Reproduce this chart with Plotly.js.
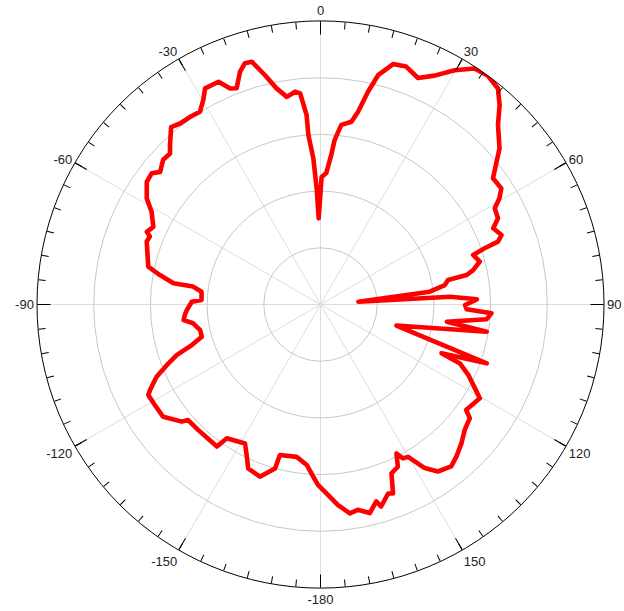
<!DOCTYPE html>
<html>
<head>
<meta charset="utf-8">
<script src="https://cdn.plot.ly/plotly-3.0.1.min.js"></script>
<style>
  html, body { margin: 0; padding: 0; background: #ffffff; }
  #chart { width: 624px; height: 611px; }
  #chart .scatterlayer .js-line { stroke-linejoin: round !important; stroke-linecap: round !important; }
</style>
</head>
<body>
<div id="chart"></div>
<script>
// Pattern angle (degrees, clockwise from top) in drawing order
const thetaDeg = [
  -1.2, 0.5, 2.5, 4.1, 4.9, 6.6, 9.6, 11.0, 12.6, 14.1,
  16.8, 19.8, 23.3, 26.5, 29.8, 33.1, 36.1, 39.4, 41.9, 44.7,
  48.9, 53.8, 57.3, 59.3, 61.1, 64.1, 66.2, 69.0, 70.5, 71.1,
  72.0, 74.9, 77.3, 78.6, 79.1, 81.1, 83.3, 85.8, 86.6, 88.1,
  90.2, 91.9, 92.9, 95.1, 97.8, 99.3, 105.5, 109.5, 111.9, 112.9,
  115.5, 118.5, 120.5, 125.9, 127.3, 131.0, 134.6, 138.3, 141.1, 144.9,
  147.5, 150.1, 151.8, 153.0, 154.5, 157.2, 159.0, 160.3, 163.3, 164.2,
  166.7, 169.7, 172.0, 175.0, 178.7, -179.2, -177.6, -175.1, -171.1, -164.9,
  -164.5, -160.6, -156.2, -153.9, -151.5, -145.0, -143.9, -135.8, -131.1, -130.2,
  -125.5, -120.6, -117.7, -116.6, -113.8, -111.5, -109.4, -107.5, -105.2, -102.0,
  -98.4, -96.5, -94.4, -92.4, -88.8, -87.8, -83.9, -82.0, -81.8, -79.6,
  -77.6, -70.1, -68.3, -67.3, -65.1, -61.2, -58.6, -54.8, -52.1, -50.4,
  -47.4, -44.9, -43.3, -40.1, -37.8, -34.8, -32.0, -29.8, -28.1, -24.6,
  -22.7, -21.2, -19.1, -17.4, -15.8, -13.6, -11.5, -9.2, -6.8, -5.5,
  -4.2, -4.1, -2.8, -1.9, -1.2
];
// Radial magnitude (grid units, outer ring = 5)
const rValues = [
  1.52, 2.25, 2.32, 2.64, 2.91, 3.19, 3.27, 3.46, 3.85, 4.17,
  4.43, 4.46, 4.35, 4.51, 4.76, 4.97, 5.00, 4.93, 4.73, 4.45,
  4.19, 3.77, 3.79, 3.67, 3.51, 3.48, 3.33, 3.42, 3.32, 3.06,
  2.83, 2.91, 2.76, 2.63, 2.29, 2.22, 1.94, 0.67, 2.29, 2.76,
  2.55, 2.58, 3.02, 2.94, 2.25, 2.97, 1.39, 3.11, 2.30, 2.67,
  2.89, 3.10, 3.26, 3.17, 3.31, 3.37, 3.49, 3.60, 3.67, 3.60,
  3.42, 3.10, 3.08, 2.95, 3.17, 3.23, 3.57, 3.54, 3.72, 3.61,
  3.78, 3.68, 3.72, 3.55, 3.30, 3.18, 3.04, 2.84, 2.72, 2.75,
  3.00, 3.22, 3.16, 2.96, 2.79, 2.88, 3.10, 3.09, 3.10, 3.20,
  3.41, 3.42, 3.43, 3.36, 3.16, 2.91, 2.69, 2.38, 2.17, 2.17,
  2.27, 2.43, 2.40, 2.36, 2.27, 2.10, 2.11, 2.27, 2.62, 2.88,
  3.11, 3.26, 3.24, 3.32, 3.25, 3.40, 3.59, 3.75, 3.77, 3.67,
  3.77, 3.76, 3.87, 4.09, 4.04, 4.03, 4.01, 4.16, 4.32, 4.32,
  4.13, 4.09, 4.34, 4.46, 4.45, 4.16, 3.89, 3.71, 3.78, 3.74,
  3.35, 3.00, 2.58, 2.05, 1.52
];
// Angular tick labels
const majorTickVals = [0, 30, 60, 90, 120, 150, 180, 210, 240, 270, 300, 330];
const majorTickText = ['0', '30', '60', '90', '120', '150', '-180', '-150', '-120', '-90', '-60', '-30'];
const minorTickVals = [];
for (let a = 0; a < 360; a += 5) minorTickVals.push(a);
const radialGridVals = [1, 2, 3, 4];
const radialRange = [0, 5];

const dom = { x: [37 / 624, 604 / 624], y: [23 / 611, 590 / 611] };

const traces = [
  {
    type: 'scatterpolar',
    mode: 'lines',
    r: rValues,
    theta: thetaDeg,
    subplot: 'polar',
    line: { color: '#ff0000', width: 4.6 },
    hoverinfo: 'skip',
    showlegend: false
  },
  {
    type: 'scatterpolar',
    mode: 'lines',
    r: [],
    theta: [],
    subplot: 'polar2',
    hoverinfo: 'skip',
    showlegend: false
  }
];

const fontFamily = 'Liberation Sans, Arial, sans-serif';

const layout = {
  width: 624,
  height: 611,
  margin: { l: 0, r: 0, t: 0, b: 0 },
  paper_bgcolor: '#ffffff',
  showlegend: false,
  font: { family: fontFamily, size: 13, color: '#222222' },
  polar: {
    domain: dom,
    bgcolor: '#ffffff',
    radialaxis: {
      range: radialRange,
      tickvals: radialGridVals,
      showticklabels: false,
      ticks: '',
      showline: false,
      gridcolor: '#c8c8c8',
      gridwidth: 1
    },
    angularaxis: {
      rotation: 90,
      direction: 'clockwise',
      tickmode: 'array',
      tickvals: majorTickVals,
      ticktext: majorTickText,
      ticks: 'inside',
      ticklen: 13,
      tickwidth: 1,
      tickcolor: '#000000',
      showline: true,
      linecolor: '#000000',
      linewidth: 1,
      gridcolor: '#dddddd',
      gridwidth: 1,
      tickfont: { family: fontFamily, size: 13, color: '#222222' }
    }
  },
  polar2: {
    domain: dom,
    bgcolor: 'rgba(0,0,0,0)',
    radialaxis: { visible: false, range: radialRange },
    angularaxis: {
      rotation: 90,
      direction: 'clockwise',
      tickmode: 'array',
      tickvals: minorTickVals,
      showticklabels: false,
      ticks: 'inside',
      ticklen: 7,
      tickwidth: 1,
      tickcolor: '#000000',
      showline: false,
      showgrid: false
    }
  }
};

Plotly.newPlot('chart', traces, layout, { staticPlot: true, displayModeBar: false });
</script>
</body>
</html>
